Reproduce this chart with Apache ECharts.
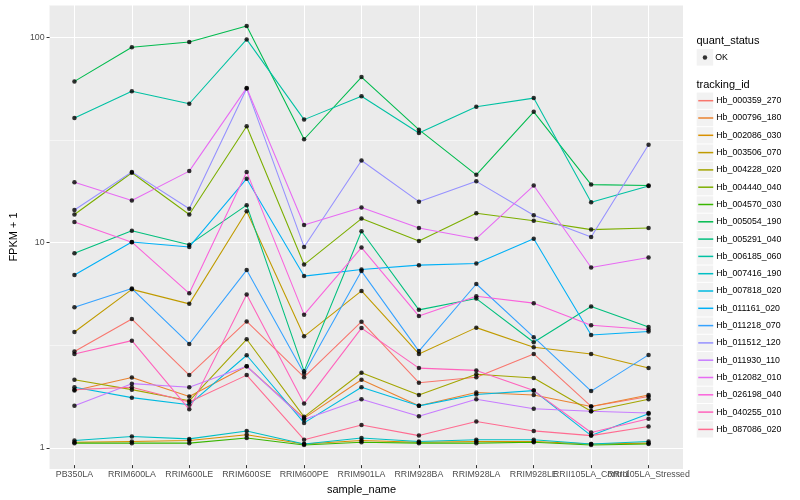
<!DOCTYPE html>
<html><head><meta charset="utf-8">
<script src="https://cdn.jsdelivr.net/npm/echarts@6/dist/echarts.min.js"></script>
<style>html,body{margin:0;padding:0;background:#fff}#c{width:800px;height:500px}</style>
</head><body><div id="c"></div>
<script>
const categories = ['PB350LA','RRIM600LA','RRIM600LE','RRIM600SE','RRIM600PE','RRIM901LA','RRIM928BA','RRIM928LA','RRIM928LE','RRII105LA_Control','RRII105LA_Stressed'];
const yTicks = [1, 10, 100];
const trackingIds = ['Hb_000359_270','Hb_000796_180','Hb_002086_030','Hb_003506_070','Hb_004228_020','Hb_004440_040','Hb_004570_030','Hb_005054_190','Hb_005291_040','Hb_006185_060','Hb_007416_190','Hb_007818_020','Hb_011161_020','Hb_011218_070','Hb_011512_120','Hb_011930_110','Hb_012082_010','Hb_026198_040','Hb_040255_010','Hb_087086_020'];
const colors = ['#F8766D','#EA8331','#D89000','#C09B00','#A3A500','#7CAE00','#39B600','#00BB4E','#00BF7D','#00C1A3','#00BFC4','#00BAE0','#00B0F6','#35A2FF','#9590FF','#C77CFF','#E76BF3','#FA62DB','#FF62BC','#FF6C91'];

const Hb_000359_270 = [2.85, 4.11, 2.18, 4.0, 2.13, 3.99, 2.0, 2.13, 2.77, 1.53, 1.71];
const Hb_000796_180 = [1.83, 2.12, 1.71, 2.41, 1.34, 2.07, 1.54, 1.79, 1.74, 1.53, 1.74];
const Hb_002086_030 = [1.02, 1.03, 1.04, 1.11, 1.0, 1.04, 1.02, 1.03, 1.03, 1.0, 1.01];
const Hb_003506_070 = [3.55, 5.75, 4.88, 13.9, 3.38, 5.65, 2.77, 3.73, 2.99, 2.77, 2.36];
const Hb_004228_020 = [2.07, 1.85, 1.63, 3.27, 1.36, 2.24, 1.74, 2.20, 2.11, 1.45, 1.66];
const Hb_004440_040 = [13.4, 21.5, 13.4, 36.4, 7.61, 12.8, 9.93, 13.6, 12.5, 11.3, 11.5];
const Hb_004570_030 = [1.01, 1.01, 1.01, 1.07, 0.99, 1.02, 1.01, 1.01, 1.02, 0.99, 1.0];
const Hb_005054_190 = [60.4, 88.8, 94.4, 113, 31.4, 63.4, 35.0, 21.0, 42.8, 18.8, 18.6];
const Hb_005291_040 = [8.65, 11.15, 9.53, 14.9, 2.28, 11.1, 4.56, 5.18, 3.16, 4.74, 3.76];
const Hb_006185_060 = [39.9, 54.0, 46.9, 97.1, 39.2, 51.1, 33.7, 45.3, 50.0, 15.4, 18.5];
const Hb_007416_190 = [1.04, 1.09, 1.06, 1.16, 1.0, 1.07, 1.03, 1.05, 1.05, 1.0, 1.03];
const Hb_007818_020 = [1.90, 1.69, 1.56, 2.73, 1.27, 1.90, 1.54, 1.75, 1.83, 1.10, 1.41];
const Hb_011161_020 = [6.76, 9.82, 9.29, 20.1, 6.68, 7.2, 7.56, 7.70, 10.2, 3.43, 3.57];
const Hb_011218_070 = [4.70, 5.80, 3.10, 7.15, 2.22, 7.07, 2.86, 6.11, 3.35, 1.82, 2.74];
const Hb_011512_120 = [14.1, 21.7, 14.3, 55.7, 9.29, 24.7, 15.5, 19.5, 13.3, 10.4, 29.5];
const Hb_011930_110 = [1.54, 1.98, 1.90, 2.41, 1.32, 1.66, 1.37, 1.66, 1.49, 1.45, 1.42];
const Hb_012082_010 = [19.3, 15.7, 21.9, 56.1, 11.9, 14.5, 11.5, 10.2, 18.6, 7.36, 8.24];
const Hb_026198_040 = [12.3, 9.8, 5.50, 21.7, 4.32, 9.22, 4.25, 5.32, 4.92, 3.83, 3.65];
const Hb_040255_010 = [2.77, 3.22, 1.48, 5.42, 1.58, 3.71, 2.36, 2.30, 1.83, 1.14, 1.33];
const Hb_087086_020 = [1.85, 1.90, 1.61, 2.18, 1.05, 1.24, 1.10, 1.29, 1.16, 1.10, 1.22];

const seriesValues = [Hb_000359_270, Hb_000796_180, Hb_002086_030, Hb_003506_070, Hb_004228_020, Hb_004440_040, Hb_004570_030, Hb_005054_190, Hb_005291_040, Hb_006185_060, Hb_007416_190, Hb_007818_020, Hb_011161_020, Hb_011218_070, Hb_011512_120, Hb_011930_110, Hb_012082_010, Hb_026198_040, Hb_040255_010, Hb_087086_020];

const FONT = '"Liberation Sans", Arial, sans-serif';
const Y_MIN = 0.788, Y_MAX = 143.3;
const P_LEFT = 40, P_RIGHT = 117, P_TOP = 5, P_BOTTOM = 31;
const unit = (800 - P_LEFT - P_RIGHT) / (categories.length - 1 + 1.2);
const G_LEFT = P_LEFT + 0.6 * unit, G_RIGHT = P_RIGHT + 0.6 * unit;
const KEY_PITCH = 17.3, KEY_Y0 = 100.7;

const chart = echarts.init(document.getElementById('c'), null, {renderer: 'canvas'});

const lineSeries = trackingIds.map((id, i) => ({
  name: id, type: 'line', xAxisIndex: 1, yAxisIndex: 2,
  data: seriesValues[i], symbol: 'none', color: colors[i],
  lineStyle: {width: 1.07, color: colors[i]}, silent: true, z: 2
}));
const points = [];
seriesValues.forEach(vals => vals.forEach((v, j) => points.push([categories[j], v])));

const keyBoxes = [{type: 'rect', shape: {x: 696.7, y: 49.1, width: 16.5, height: 16.5}, style: {fill: '#F2F2F2'}, z: 0}];
trackingIds.forEach((id, i) => keyBoxes.push({type: 'rect', shape: {x: 696.7, y: KEY_Y0 - 8.15 + i * KEY_PITCH, width: 16.5, height: 16.3}, style: {fill: '#F2F2F2'}, z: 0}));

chart.setOption({
  animation: false,
  textStyle: {fontFamily: FONT},
  title: [
    {text: 'quant_status', left: 696.5, top: 35, padding: 0, textStyle: {fontSize: 11, fontWeight: 'normal', color: '#000', fontFamily: FONT}},
    {text: 'tracking_id', left: 696.5, top: 79, padding: 0, textStyle: {fontSize: 11, fontWeight: 'normal', color: '#000', fontFamily: FONT}}
  ],
  graphic: keyBoxes,
  legend: [
    {data: ['OK'], orient: 'vertical', left: 702.7, top: 53, padding: 0, itemWidth: 4.5, itemHeight: 4.5, icon: 'circle', selectedMode: false,
     itemStyle: {color: '#000'}, textStyle: {fontSize: 8.8, color: '#000', fontFamily: FONT, padding: [0, 0, 0, 3]}},
    {data: trackingIds, orient: 'vertical', left: 697.5, top: KEY_Y0 - 5.6, padding: 0, itemWidth: 15, itemHeight: 14, itemGap: KEY_PITCH - 11.2, selectedMode: false,
     itemStyle: {color: 'rgba(0,0,0,0)', borderWidth: 0, opacity: 0}, lineStyle: {width: 1.5},
     textStyle: {fontSize: 8.8, color: '#000', fontFamily: FONT, padding: [0, 0, 0, -2]}}
  ],
  grid: [
    {left: P_LEFT, right: P_RIGHT, top: P_TOP, bottom: P_BOTTOM, show: true, backgroundColor: '#EBEBEB', borderWidth: 0, containLabel: false},
    {left: G_LEFT, right: G_RIGHT, top: P_TOP, bottom: P_BOTTOM, containLabel: false}
  ],
  xAxis: [
    {gridIndex: 0, type: 'value', min: 0, max: 1, show: false},
    {gridIndex: 1, type: 'category', data: categories, boundaryGap: false,
     axisLine: {show: false},
     axisTick: {show: true, length: 3, lineStyle: {color: '#333', width: 1}},
     axisLabel: {interval: 0, fontSize: 8.8, color: '#4D4D4D', margin: 5, fontFamily: FONT, hideOverlap: false},
     splitLine: {show: true, lineStyle: {color: '#fff', width: 1.07}},
     name: 'sample_name', nameLocation: 'middle', nameGap: 14, nameTextStyle: {fontSize: 11, color: '#000', fontFamily: FONT}}
  ],
  yAxis: [
    {gridIndex: 0, type: 'log', logBase: 10, min: Y_MIN, max: Y_MAX,
     axisLine: {show: false},
     axisTick: {show: true, customValues: yTicks, length: 3, lineStyle: {color: '#333', width: 1}},
     axisLabel: {customValues: yTicks, fontSize: 8.8, color: '#4D4D4D', margin: 5, fontFamily: FONT},
     splitLine: {show: true, lineStyle: {color: '#fff', width: 1.07}},
     name: 'FPKM + 1', nameLocation: 'middle', nameGap: 22, nameRotate: 90, nameTextStyle: {fontSize: 11, color: '#000', fontFamily: FONT}},
    {gridIndex: 0, type: 'log', logBase: Math.sqrt(10), min: Y_MIN, max: Y_MAX, position: 'left',
     axisLine: {show: false}, axisTick: {show: false}, axisLabel: {show: false},
     splitLine: {show: true, lineStyle: {color: '#fff', width: 0.53}}},
    {gridIndex: 1, type: 'log', logBase: 10, min: Y_MIN, max: Y_MAX, show: false}
  ],
  series: lineSeries.concat([{
    name: 'OK', type: 'scatter', xAxisIndex: 1, yAxisIndex: 2, data: points,
    symbol: 'circle', symbolSize: 4.5, itemStyle: {color: '#000'}, silent: true, z: 3
  }])
});
</script>
</body></html>
